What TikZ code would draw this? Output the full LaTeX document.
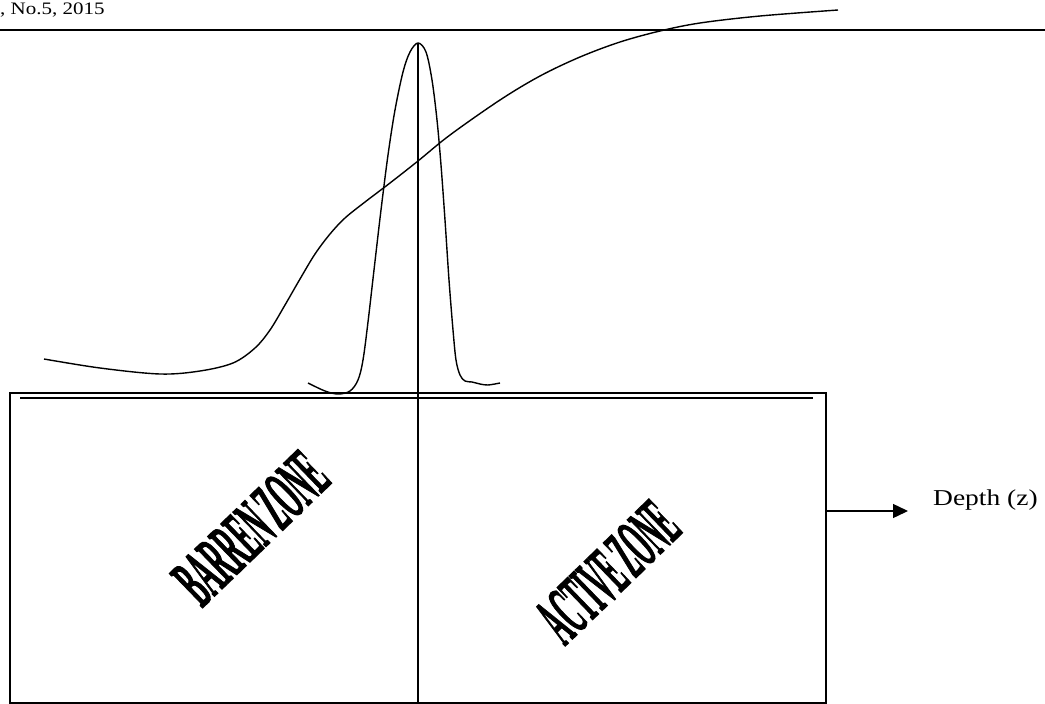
\documentclass[tikz,border=0pt]{standalone}
\usepackage{fontspec}
\setmainfont{Liberation Serif}
\newfontfamily\zonefont[FakeBold=2.5]{Liberation Serif Bold}
\usetikzlibrary{arrows.meta}
\begin{document}
\begin{tikzpicture}[x=1pt,y=-1pt,
  boxline/.style={line width=1.3pt},
  curveline/.style={line width=1.4pt, line join=round},
  zonetext/.style={inner sep=0pt, rotate=44, font=\fontsize{24}{28}\zonefont},
  plain/.style={inner sep=0pt, anchor=base west}]
\useasboundingbox (0,0) rectangle (1045,704);
% header
\node[plain] (hdr) at (0,14) {\fontsize{17.5}{20}\selectfont\scalebox{1.2}[1]{, No.5, 2015}};
\coordinate (hl) at (0,30);
\coordinate (hr) at (1045,30);
\draw[line width=1.7pt] (hl) -- (hr);
% box
\coordinate (bnw) at (10,393);
\coordinate (bse) at (826,703);
\draw[boxline] (bnw) rectangle (bse);
\coordinate (il) at (20,398);
\coordinate (ir) at (813,398);
\draw[boxline] (il) -- (ir);
% centre line
\coordinate (ctop) at (418,43);
\coordinate (cbot) at (418,703);
\draw[line width=1.8pt] (ctop) -- (cbot);
% zones
\node[zonetext] (barren) at (251,528) {\scalebox{1.05}[3.0]{BARREN\kern4pt ZONE}};
\node[zonetext] (active) at (608,572) {\scalebox{1.0}[3.0]{ACTIVE\kern4pt ZONE}};
% arrow
\coordinate (as) at (826,511);
\coordinate (ae) at (908,511);
\draw[line width=1.4pt, -{Triangle[length=15pt,width=14pt]}] (as) -- (ae);
\node[plain] (depth) at (933,505) {\fontsize{22.7}{26}\selectfont\scalebox{1.21}[1]{Depth (z)}};
% sigmoid curve
\draw[curveline] plot[smooth, tension=0.55] coordinates {
 (44,359) (100,368) (160,374) (200,371) (233,363) (255,348) (270,330)
 (285,305) (300,279) (315,254) (330,234) (345,218) (365,202) (390,183)
 (418,161) (450,135) (500,100) (540,76) (580,57) (620,42)
 (660,31) (700,23) (760,16) (838,10)};
% peak curve
\draw[curveline] plot[smooth, tension=0.55] coordinates {
 (308,383) (325,391) (338,394) (350,391) (358,380) (363,360) (368,322)
 (374,270) (381,210) (388,155) (395,110) (403,72) (410,52) (418,43)
 (426,52) (432,80) (437,120) (441,165) (445,220) (449,280) (453,330)
 (456,360) (460,375) (465,381) (472,382) (480,384) (488,385) (500,383)};
\end{tikzpicture}
\end{document}
